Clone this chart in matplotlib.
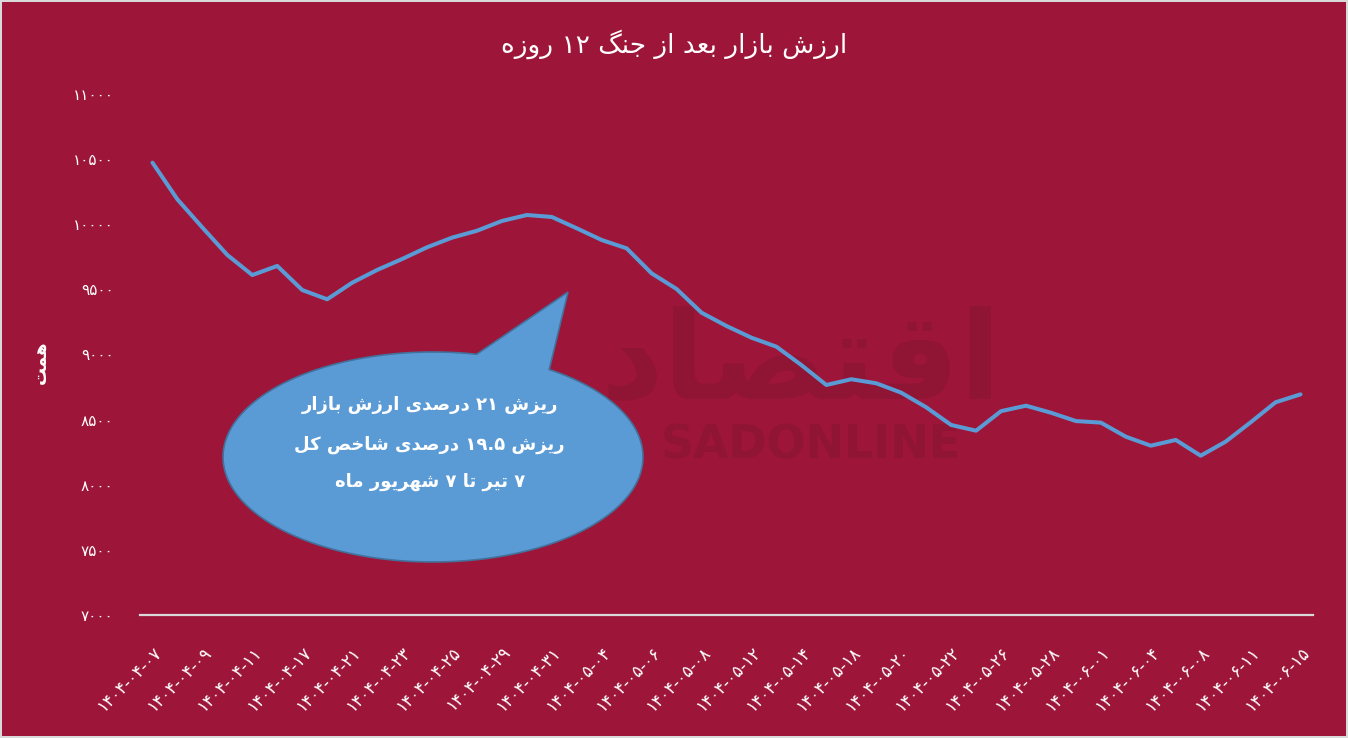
import re
import numpy as np
import matplotlib
matplotlib.use('Agg')
import matplotlib.pyplot as plt
from matplotlib.patches import Polygon

plt.rcParams['font.family'] = ['DejaVu Sans']

# ---- data ----
values = [10473, 10191, 9975, 9764, 9610, 9680, 9495, 9424, 9551, 9649,
          9733, 9823, 9897, 9950, 10025, 10071, 10056, 9969, 9879, 9815,
          9623, 9503, 9321, 9219, 9129, 9060, 8919, 8766, 8810, 8779,
          8707, 8595, 8459, 8415, 8565, 8607, 8553, 8489, 8477, 8369,
          8300, 8344, 8223, 8331, 8479, 8633, 8694]
date_labels = ['۱۴۰۴-۰۴-۰۷', '۱۴۰۴-۰۴-۰۹', '۱۴۰۴-۰۴-۱۱', '۱۴۰۴-۰۴-۱۷',
               '۱۴۰۴-۰۴-۲۱', '۱۴۰۴-۰۴-۲۳', '۱۴۰۴-۰۴-۲۵', '۱۴۰۴-۰۴-۲۹',
               '۱۴۰۴-۰۴-۳۱', '۱۴۰۴-۰۵-۰۴', '۱۴۰۴-۰۵-۰۶', '۱۴۰۴-۰۵-۰۸',
               '۱۴۰۴-۰۵-۱۲', '۱۴۰۴-۰۵-۱۴', '۱۴۰۴-۰۵-۱۸', '۱۴۰۴-۰۵-۲۰',
               '۱۴۰۴-۰۵-۲۲', '۱۴۰۴-۰۵-۲۶', '۱۴۰۴-۰۵-۲۸', '۱۴۰۴-۰۶-۰۱',
               '۱۴۰۴-۰۶-۰۴', '۱۴۰۴-۰۶-۰۸', '۱۴۰۴-۰۶-۱۱', '۱۴۰۴-۰۶-۱۵']
yticks = [7000, 7500, 8000, 8500, 9000, 9500, 10000, 10500, 11000]

title = 'ارزش بازار بعد از جنگ ۱۲ روزه'
ylabel = 'همت'
note_lines = ['ریزش ۲۱ درصدی ارزش بازار',
              'ریزش ۱۹.۵ درصدی شاخص کل',
              '۷ تیر تا ۷ شهریور ماه']

# ---- minimal Persian shaping (presentation forms + RTL order) ----
def four(s):
    return tuple(chr(s + k) for k in range(4))

def two(s):
    return (chr(s), chr(s + 1))

FORMS = {
    'ا': two(0xFE8D), 'آ': two(0xFE81), 'ب': four(0xFE8F), 'پ': four(0xFB56),
    'ت': four(0xFE95), 'ث': four(0xFE99), 'ج': four(0xFE9D), 'چ': four(0xFB7A),
    'ح': four(0xFEA1), 'خ': four(0xFEA5), 'د': two(0xFEA9), 'ذ': two(0xFEAB),
    'ر': two(0xFEAD), 'ز': two(0xFEAF), 'ژ': two(0xFB8A), 'س': four(0xFEB1),
    'ش': four(0xFEB5), 'ص': four(0xFEB9), 'ض': four(0xFEBD), 'ط': four(0xFEC1),
    'ظ': four(0xFEC5), 'ع': four(0xFEC9), 'غ': four(0xFECD), 'ف': four(0xFED1),
    'ق': four(0xFED5), 'ک': four(0xFB8E), 'گ': four(0xFB92), 'ل': four(0xFEDD),
    'م': four(0xFEE1), 'ن': four(0xFEE5), 'ه': four(0xFEE9), 'و': two(0xFEED),
    'ی': four(0xFBFC),
}

def shape(txt):
    out = []
    for i, c in enumerate(txt):
        if c not in FORMS:
            out.append(c)
            continue
        f = FORMS[c]
        prev = txt[i - 1] if i > 0 else ''
        nxt = txt[i + 1] if i + 1 < len(txt) else ''
        jp = prev in FORMS and len(FORMS[prev]) == 4
        jn = len(f) == 4 and nxt in FORMS
        if jp and jn:
            out.append(f[3])
        elif jp:
            out.append(f[1])
        elif jn:
            out.append(f[2])
        else:
            out.append(f[0])
    return ''.join(out)

DIG = '0123456789۰۱۲۳۴۵۶۷۸۹'

def fa(txt):
    runs = re.findall(r'[0-9۰-۹.]+|[^0-9۰-۹.]+', shape(txt))
    return ''.join(r if r[0] in DIG else r[::-1] for r in reversed(runs))

to_fa = str.maketrans('0123456789', '۰۱۲۳۴۵۶۷۸۹')

# ---- figure ----
bg = '#9D1639'
fig = plt.figure(figsize=(13.48, 7.38), dpi=100, facecolor=bg,
                 edgecolor='#D9D9D9', linewidth=1.5)
ax = fig.add_axes([140 / 1348, 1 - 615 / 738, 1173 / 1348, 521 / 738])
ax.set_facecolor(bg)

x = np.arange(len(values))
ax.plot(x, values, color='#5B9BD5', lw=2.9, solid_capstyle='round',
        solid_joinstyle='round', zorder=3)

ax.set_xlim(-0.5, len(values) - 0.5)
ax.set_ylim(yticks[0], yticks[-1])
ax.set_yticks(yticks)
ax.set_yticklabels([str(v).translate(to_fa) for v in yticks])
ax.set_xticks(x[::2])
ax.set_xticklabels(date_labels, rotation=45, ha='right', va='top',
                   rotation_mode='anchor')
ax.tick_params(axis='y', length=0, pad=19, labelsize=11, colors='white')
ax.tick_params(axis='x', length=0, pad=20, labelsize=12, colors='white')

for s in ['top', 'right', 'left']:
    ax.spines[s].set_visible(False)
ax.spines['bottom'].set_color('#D9D9D9')
ax.spines['bottom'].set_linewidth(1.6)

ax.set_ylabel(fa(ylabel), color='white', fontsize=13, fontweight='bold')
ax.yaxis.set_label_coords(-0.076, 0.486)

fig.text(0.5, 1 - 44 / 738, fa(title), color='white', fontsize=19,
         ha='center', va='center')

# watermark: only the part that shows beside the bubble
wm = '#901434'
ax.text(0.70, 0.325, 'SADONLINE', transform=ax.transAxes, color=wm,
        fontsize=33, fontweight='bold', ha='right', va='center', zorder=1)
ax.text(0.735, 0.48, fa('اقتصاد'), transform=ax.transAxes, color=wm,
        fontsize=88, fontweight='bold', ha='right', va='center', zorder=1)

# speech bubble
cx, cy, a, b = 0.2498, 0.3033, 0.179, 0.2015
t = np.radians(np.linspace(78, 56.4 + 360, 300))
pts = np.column_stack([cx + a * np.cos(t), cy + b * np.sin(t)])
pts = np.vstack([pts, [[0.3649, 0.620]]])
ax.add_patch(Polygon(pts, closed=True, transform=ax.transAxes,
                     facecolor='#5B9BD5', edgecolor='#41719C', lw=1.2,
                     zorder=4))
for line, yy in zip(note_lines, [0.403, 0.326, 0.255]):
    ax.text(0.247, yy, fa(line), transform=ax.transAxes, color='white',
            fontsize=13, fontweight='bold', ha='center', va='center',
            zorder=5)

fig.savefig('out.png', dpi=100, facecolor=bg, edgecolor='#D9D9D9')
